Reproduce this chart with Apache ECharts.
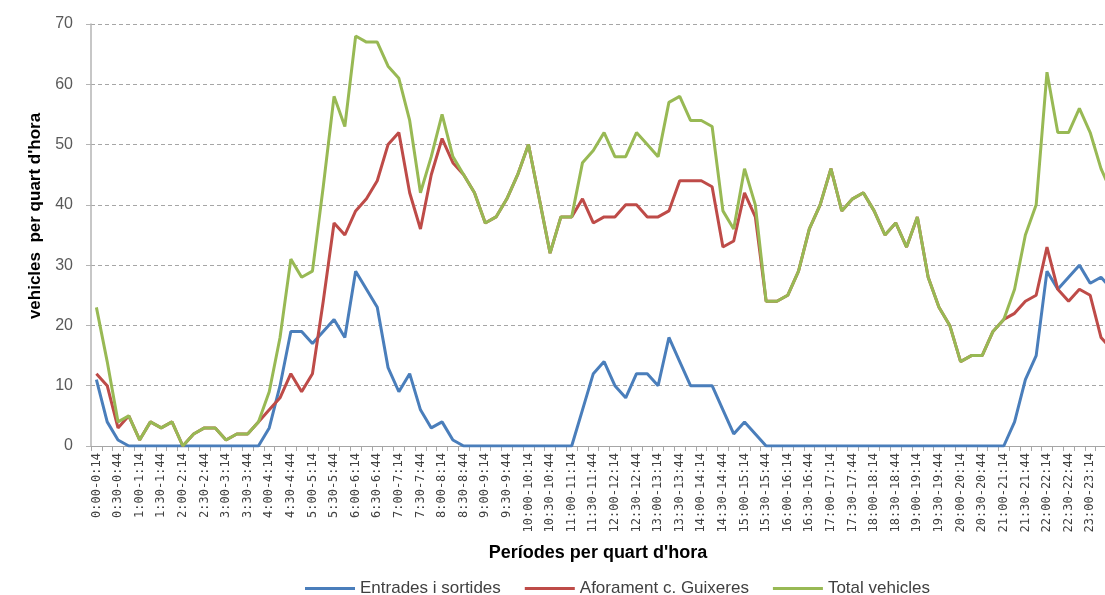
<!DOCTYPE html>
<html><head><meta charset="utf-8">
<script src="https://cdn.jsdelivr.net/npm/echarts@6/dist/echarts.min.js"></script>
<style>html,body{margin:0;padding:0;background:#fff;overflow:hidden;width:1105px;height:595px}#c{width:1140px;height:595px}</style>
</head><body><div id="c"></div>
<script>
const categories = [
 "0:00-0:14","0:15-0:29","0:30-0:44","0:45-0:59",
 "1:00-1:14","1:15-1:29","1:30-1:44","1:45-1:59",
 "2:00-2:14","2:15-2:29","2:30-2:44","2:45-2:59",
 "3:00-3:14","3:15-3:29","3:30-3:44","3:45-3:59",
 "4:00-4:14","4:15-4:29","4:30-4:44","4:45-4:59",
 "5:00-5:14","5:15-5:29","5:30-5:44","5:45-5:59",
 "6:00-6:14","6:15-6:29","6:30-6:44","6:45-6:59",
 "7:00-7:14","7:15-7:29","7:30-7:44","7:45-7:59",
 "8:00-8:14","8:15-8:29","8:30-8:44","8:45-8:59",
 "9:00-9:14","9:15-9:29","9:30-9:44","9:45-9:59",
 "10:00-10:14","10:15-10:29","10:30-10:44","10:45-10:59",
 "11:00-11:14","11:15-11:29","11:30-11:44","11:45-11:59",
 "12:00-12:14","12:15-12:29","12:30-12:44","12:45-12:59",
 "13:00-13:14","13:15-13:29","13:30-13:44","13:45-13:59",
 "14:00-14:14","14:15-14:29","14:30-14:44","14:45-14:59",
 "15:00-15:14","15:15-15:29","15:30-15:44","15:45-15:59",
 "16:00-16:14","16:15-16:29","16:30-16:44","16:45-16:59",
 "17:00-17:14","17:15-17:29","17:30-17:44","17:45-17:59",
 "18:00-18:14","18:15-18:29","18:30-18:44","18:45-18:59",
 "19:00-19:14","19:15-19:29","19:30-19:44","19:45-19:59",
 "20:00-20:14","20:15-20:29","20:30-20:44","20:45-20:59",
 "21:00-21:14","21:15-21:29","21:30-21:44","21:45-21:59",
 "22:00-22:14","22:15-22:29","22:30-22:44","22:45-22:59",
 "23:00-23:14","23:15-23:29","23:30-23:44","23:45-23:59"
];

const entradesSortides = [
 11,4,1,0, 0,0,0,0, 0,0,0,0, 0,0,0,0,
 3,10,19,19, 17,19,21,18, 29,26,23,13, 9,12,6,3,
 4,1,0,0, 0,0,0,0, 0,0,0,0, 0,6,12,14,
 10,8,12,12, 10,18,14,10, 10,10,6,2, 4,2,0,0,
 0,0,0,0, 0,0,0,0, 0,0,0,0, 0,0,0,0,
 0,0,0,0, 0,4,11,15, 29,26,28,30, 27,28,26,null
];

const aforamentGuixeres = [
 12,10,3,5, 1,4,3,4, 0,2,3,3, 1,2,2,4,
 6,8,12,9, 12,24,37,35, 39,41,44,50, 52,42,36,45,
 51,47,45,42, 37,38,41,45, 50,41,32,38, 38,41,37,38,
 38,40,40,38, 38,39,44,44, 44,43,33,34, 42,38,24,24,
 25,29,36,40, 46,39,41,42, 39,35,37,33, 38,28,23,20,
 14,15,15,19, 21,22,24,25, 33,26,24,26, 25,18,16,null
];

const totalVehicles = [
 23,14,4,5, 1,4,3,4, 0,2,3,3, 1,2,2,4,
 9,18,31,28, 29,43,58,53, 68,67,67,63, 61,54,42,48,
 55,48,45,42, 37,38,41,45, 50,41,32,38, 38,47,49,52,
 48,48,52,50, 48,57,58,54, 54,53,39,36, 46,40,24,24,
 25,29,36,40, 46,39,41,42, 39,35,37,33, 38,28,23,20,
 14,15,15,19, 21,26,35,40, 62,52,52,56, 52,46,42,null
];

const seriesNames = ["Entrades i sortides", "Aforament c. Guixeres", "Total vehicles"];
const seriesColors = ["#4A7EBB", "#BE4B48", "#98B954"];
const yTicks = { min: 0, max: 70, interval: 10 };

const chart = echarts.init(document.getElementById('c'), null, { renderer: 'canvas' });
const mk = (name, data, color) => ({
  name, type: 'line', data, symbol: 'none', smooth: false, connectNulls: false,
  lineStyle: { color, width: 3 }, itemStyle: { color },
  emphasis: { disabled: true }, animation: false
});
chart.setOption({
  animation: false,
  backgroundColor: '#fff',
  grid: { left: 91, top: 24, bottom: 149, right: 12, containLabel: false },
  legend: {
    left: 300, top: 575, itemWidth: 50, itemHeight: 3, itemGap: 24, icon: 'rect',
    data: seriesNames,
    textStyle: { fontFamily: 'Liberation Sans', fontSize: 17, color: '#404040', padding: [0, 0, 0, 0] }
  },
  xAxis: {
    type: 'category', data: categories, boundaryGap: true,
    name: "Períodes per quart d'hora", nameLocation: 'middle', nameGap: 98,
    nameTextStyle: { fontFamily: 'Liberation Sans', fontWeight: 'bold', fontSize: 18, color: '#000', padding: [0, 23, 0, 0] },
    axisLine: { show: true, lineStyle: { color: '#a6a6a6', width: 1 } },
    axisTick: { show: true, interval: 0, length: 5, lineStyle: { color: '#a6a6a6' } },
    axisLabel: { interval: 1, rotate: 90, margin: 7, fontFamily: 'DejaVu Sans Mono', fontSize: 12, color: '#404040' },
    splitLine: { show: false }
  },
  yAxis: {
    type: 'value', min: yTicks.min, max: yTicks.max, interval: yTicks.interval,
    name: "vehicles  per quart d'hora", nameLocation: 'middle', nameGap: 46, nameRotate: 90,
    nameTextStyle: { fontFamily: 'Liberation Sans', fontWeight: 'bold', fontSize: 17, color: '#000', padding: [0, 0, 0, 38] },
    axisLine: { show: true, lineStyle: { color: '#b5b5b5', width: 1.5 } },
    axisTick: { show: true, length: 5, lineStyle: { color: '#b5b5b5' } },
    axisLabel: { margin: 18, fontFamily: 'Liberation Sans', fontSize: 16, color: '#595959' },
    splitLine: { show: true, lineStyle: { color: '#a6a6a6', width: 1, type: [4, 3] } }
  },
  series: [
    mk(seriesNames[0], entradesSortides, seriesColors[0]),
    mk(seriesNames[1], aforamentGuixeres, seriesColors[1]),
    mk(seriesNames[2], totalVehicles, seriesColors[2])
  ]
});
</script></body></html>
